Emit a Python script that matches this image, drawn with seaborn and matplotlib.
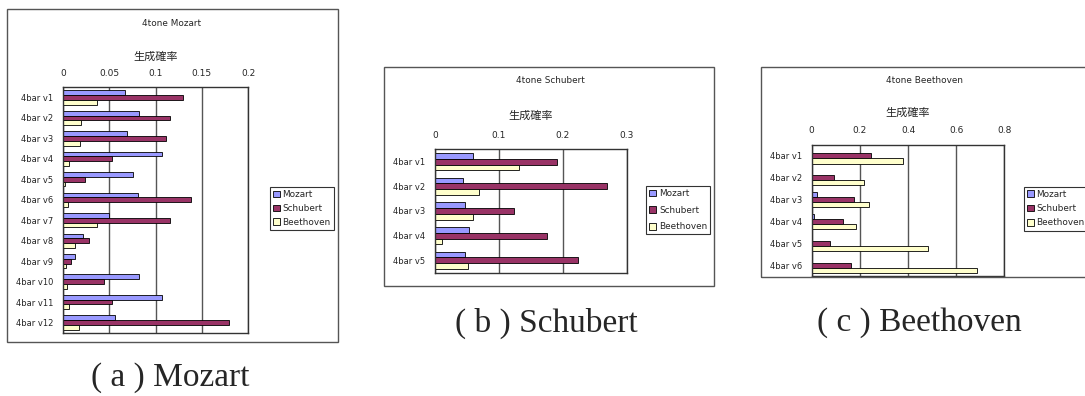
import matplotlib
matplotlib.use("Agg")
import matplotlib.pyplot as plt
import seaborn as sns
import pandas as pd
from matplotlib.patches import Rectangle, Patch

# --- data: generation probability per 4-bar variation, per composer model ---
composers = ["Mozart", "Schubert", "Beethoven"]

mozart_pieces = [f"4bar v{i}" for i in range(1, 13)]
mozart_by_mozart = [0.067, 0.082, 0.069, 0.1065, 0.076, 0.0805, 0.050, 0.0213, 0.0123, 0.0816, 0.1065, 0.056]
mozart_by_schubert = [0.130, 0.116, 0.1115, 0.053, 0.0235, 0.138, 0.115, 0.0275, 0.0083, 0.0437, 0.053, 0.179]
mozart_by_beethoven = [0.036, 0.0195, 0.0184, 0.006, 0.002, 0.0054, 0.0368, 0.0123, 0.0025, 0.0036, 0.0065, 0.0167]

schubert_pieces = [f"4bar v{i}" for i in range(1, 6)]
schubert_by_mozart = [0.060, 0.0433, 0.0475, 0.0537, 0.0464]
schubert_by_schubert = [0.1915, 0.2687, 0.123, 0.175, 0.224]
schubert_by_beethoven = [0.132, 0.0683, 0.060, 0.0115, 0.051]

beethoven_pieces = [f"4bar v{i}" for i in range(1, 7)]
beethoven_by_mozart = [0.0, 0.0, 0.021, 0.011, 0.0, 0.0]
beethoven_by_schubert = [0.245, 0.094, 0.176, 0.129, 0.075, 0.165]
beethoven_by_beethoven = [0.378, 0.219, 0.238, 0.183, 0.482, 0.685]

ticks_a = [0, 0.05, 0.1, 0.15, 0.2]
ticks_b = [0, 0.1, 0.2, 0.3]
ticks_c = [0, 0.2, 0.4, 0.6, 0.8]
ticklabels_a = ["0", "0.05", "0.1", "0.15", "0.2"]
ticklabels_b = ["0", "0.1", "0.2", "0.3"]
ticklabels_c = ["0", "0.2", "0.4", "0.6", "0.8"]

palette = {"Mozart": "#9999FF", "Schubert": "#993366", "Beethoven": "#FFFFCC"}

sns.set_style("white")
plt.rcParams["font.family"] = ["DejaVu Sans", "Noto Sans CJK JP"]

W, H = 1085, 396
fig = plt.figure(figsize=(W / 100, H / 100), dpi=100)


def fx(x):
    return x / W


def fy(y):
    return 1 - y / H


def long_frame(pieces, m, s, b):
    rows = []
    for name, vals in zip(composers, (m, s, b)):
        for p, v in zip(pieces, vals):
            rows.append({"piece": p, "composer": name, "value": v})
    return pd.DataFrame(rows)


panels = [
    dict(title="4tone Mozart", caption="( a ) Mozart",
         df=long_frame(mozart_pieces, mozart_by_mozart, mozart_by_schubert, mozart_by_beethoven),
         n=len(mozart_pieces), ticks=ticks_a, labels=ticklabels_a,
         frame=(7.3, 9.3, 337.7, 342), axes=(63.3, 87.3, 248, 332.7),
         title_xy=(172, 24), label_xy=(155.6, 57), legend_xy=(269.5, 187),
         legend_spacing=0.55, caption_xy=(170, 378)),
    dict(title="4tone Schubert", caption="( b ) Schubert",
         df=long_frame(schubert_pieces, schubert_by_mozart, schubert_by_schubert, schubert_by_beethoven),
         n=len(schubert_pieces), ticks=ticks_b, labels=ticklabels_b,
         frame=(384, 67, 714, 286), axes=(435, 149.3, 626.7, 272.7),
         title_xy=(550, 80.7), label_xy=(530.8, 116), legend_xy=(646, 186),
         legend_spacing=0.85, caption_xy=(546, 323)),
    dict(title="4tone Beethoven", caption="( c ) Beethoven",
         df=long_frame(beethoven_pieces, beethoven_by_mozart, beethoven_by_schubert, beethoven_by_beethoven),
         n=len(beethoven_pieces), ticks=ticks_c, labels=ticklabels_c,
         frame=(761, 67, 1092, 277), axes=(811.7, 145, 1004.3, 276),
         title_xy=(925, 80.7), label_xy=(908, 112.7), legend_xy=(1023.7, 186.7),
         legend_spacing=0.6, caption_xy=(919, 323)),
]

for p in panels:
    x0, y0, x1, y1 = p["frame"]
    fig.patches.append(Rectangle((fx(x0), fy(y1)), (x1 - x0) / W, (y1 - y0) / H,
                                 transform=fig.transFigure, fill=False,
                                 edgecolor="#555555", linewidth=1.0))

    ax0, ay0, ax1, ay1 = p["axes"]
    ax = fig.add_axes([fx(ax0), fy(ay1), (ax1 - ax0) / W, (ay1 - ay0) / H])
    sns.barplot(data=p["df"], x="value", y="piece", hue="composer",
                hue_order=composers, palette=palette, orient="h",
                width=0.7, saturation=1, edgecolor="black", linewidth=0.6,
                legend=False, ax=ax)

    ax.set_xlim(0, p["ticks"][-1])
    ax.set_ylim(p["n"] - 0.5, -0.5)
    ax.set_xticks(p["ticks"])
    ax.set_xticklabels(p["labels"])
    ax.xaxis.tick_top()
    ax.tick_params(axis="x", length=0, pad=7, labelsize=6.5)
    ax.tick_params(axis="y", which="major", length=0, pad=7, labelsize=6.0)
    ax.set_yticks([i + 0.5 for i in range(p["n"] - 1)], minor=True)
    ax.tick_params(axis="y", which="minor", direction="in", length=3,
                   width=0.8, color="black")
    ax.grid(True, axis="x", color="#555555", linewidth=1.0)
    ax.grid(False, axis="y")
    ax.set_axisbelow(True)
    ax.set_xlabel("")
    ax.set_ylabel("")
    for sp in ax.spines.values():
        sp.set_visible(True)
        sp.set_color("#333333")
        sp.set_linewidth(1.0)

    handles = [Patch(facecolor=palette[c], edgecolor="black", linewidth=0.6) for c in composers]
    leg = ax.legend(handles, composers, loc="upper left",
                    bbox_to_anchor=(fx(p["legend_xy"][0]), fy(p["legend_xy"][1])),
                    bbox_transform=fig.transFigure, frameon=True, fancybox=False,
                    edgecolor="black", fontsize=6.4, handlelength=0.8,
                    handleheight=0.8, handletextpad=0.3, borderpad=0.35,
                    labelspacing=p["legend_spacing"], borderaxespad=0)
    leg.get_frame().set_linewidth(0.8)

    fig.text(fx(p["title_xy"][0]), fy(p["title_xy"][1]), p["title"],
             ha="center", va="center", fontsize=6.4)
    fig.text(fx(p["label_xy"][0]), fy(p["label_xy"][1]), "生成確率",
             ha="center", va="center", fontsize=8, family=["Noto Sans CJK JP"])
    fig.text(fx(p["caption_xy"][0]), fy(p["caption_xy"][1]), p["caption"],
             ha="center", va="center", fontsize=24, family=["Liberation Serif"])

fig.savefig("out.png", dpi=100, facecolor="white")
